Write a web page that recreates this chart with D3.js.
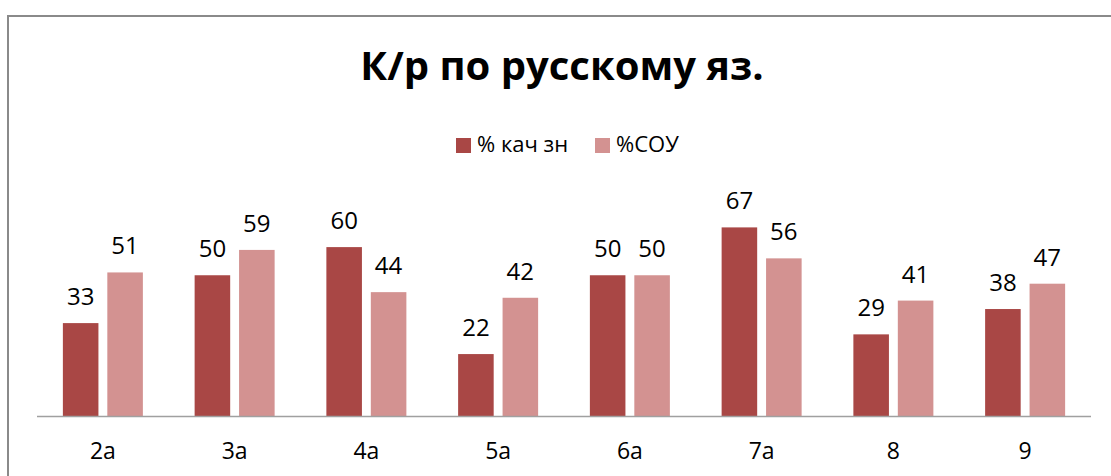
<!DOCTYPE html>
<html>
<head>
<meta charset="utf-8">
<script src="https://cdn.jsdelivr.net/npm/d3@7"></script>
<style>
  html, body { margin: 0; padding: 0; background: #fff; }
  svg { display: block; font-family: "Open Sans", sans-serif; }
</style>
</head>
<body>
<svg id="svg" width="1111" height="476"></svg>
<script>
const categories = ["2а", "3а", "4а", "5а", "6а", "7а", "8", "9"];
const seriesNames = ["% кач зн", "%СОУ"];
const kachZn = [33, 50, 60, 22, 50, 67, 29, 38];
const sou = [51, 59, 44, 42, 50, 56, 41, 47];
const colors = ["#a94745", "#d39291"];

const svg = d3.select("#svg");

// outer frame (runs off the right and bottom edges)
svg.append("rect")
    .attr("x", 8).attr("y", 16)
    .attr("width", 1300).attr("height", 700)
    .style("fill", "none")
    .style("stroke", "#8a8a8a")
    .style("stroke-width", 2);

svg.append("text")
    .attr("x", 562).attr("y", 80)
    .attr("text-anchor", "middle")
    .style("font-size", "40px")
    .style("font-weight", "bold")
    .style("fill", "#000")
    .text("К/р по русскому яз.");

const x = d3.scaleBand().domain(categories).range([37, 1091]).paddingInner(0).paddingOuter(0);
const inner = d3.scaleBand().domain([0, 1]).range([x.bandwidth() / 2 - 40, x.bandwidth() / 2 + 40]).paddingInner(0.2);
const y = d3.scaleLinear().domain([0, 80]).range([416, 416 - 225.2]);

const data = categories.map((c, i) => ({ cat: c, vals: [kachZn[i], sou[i]] }));

const groups = svg.selectAll("g.grp").data(data).join("g")
    .attr("class", "grp")
    .attr("transform", d => `translate(${x(d.cat)},0)`);

groups.selectAll("rect").data(d => d.vals).join("rect")
    .attr("x", (v, j) => inner(j))
    .attr("width", inner.bandwidth())
    .attr("y", v => y(v))
    .attr("height", v => y(0) - y(v))
    .style("fill", (v, j) => colors[j]);

groups.selectAll("text.val").data(d => d.vals).join("text")
    .attr("class", "val")
    .attr("x", (v, j) => inner(j) + inner.bandwidth() / 2)
    .attr("y", v => y(v) - 18)
    .attr("text-anchor", "middle")
    .style("font-size", "24px")
    .style("fill", "#000")
    .text(v => v);

// axis line
svg.append("line")
    .attr("x1", 37).attr("x2", 1091)
    .attr("y1", 416.5).attr("y2", 416.5)
    .style("stroke", "#a0a0a0")
    .style("stroke-width", 1.5);

svg.selectAll("text.cat").data(categories).join("text")
    .attr("class", "cat")
    .attr("x", d => x(d) + x.bandwidth() / 2)
    .attr("y", 459)
    .attr("text-anchor", "middle")
    .style("font-size", "23px")
    .style("fill", "#000")
    .text(d => d);

// legend
const legendX = [456, 595];
const lg = svg.selectAll("g.leg").data(seriesNames).join("g")
    .attr("class", "leg")
    .attr("transform", (d, i) => `translate(${legendX[i]},138)`);
lg.append("rect")
    .attr("width", 15).attr("height", 15)
    .style("fill", (d, i) => colors[i]);
lg.append("text")
    .attr("x", 21).attr("y", 14)
    .style("font-size", "22px")
    .style("fill", "#000")
    .text(d => d);
</script>
</body>
</html>
